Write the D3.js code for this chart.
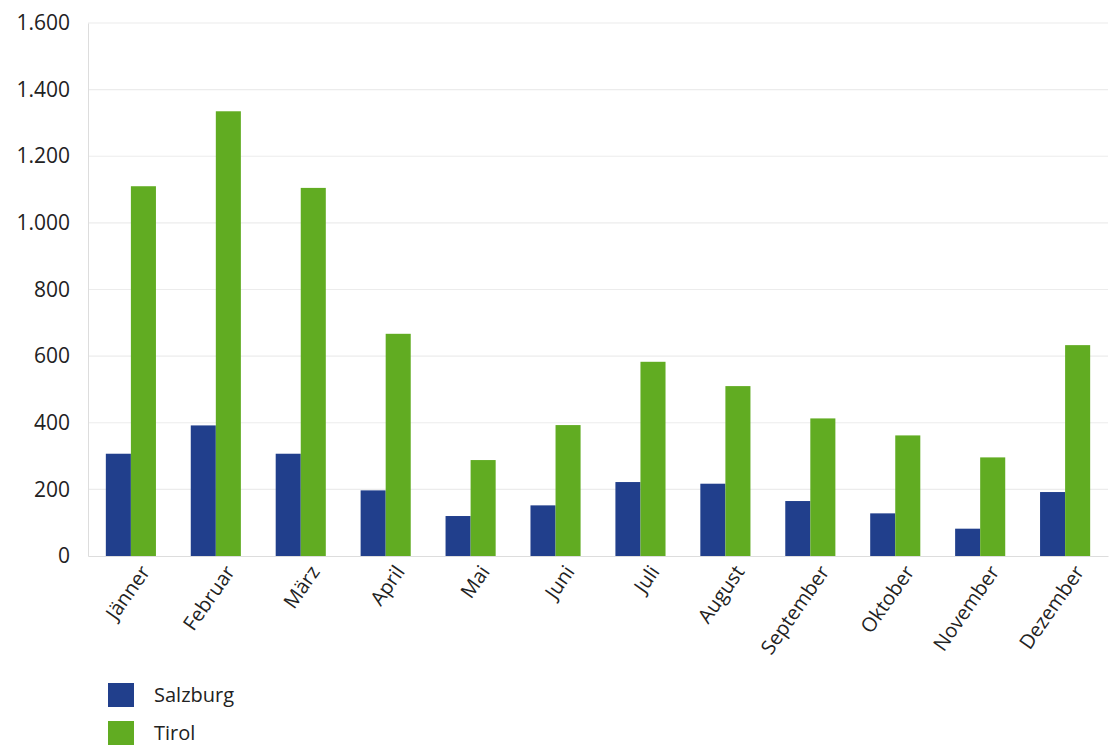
<!DOCTYPE html>
<html><head><meta charset="utf-8">
<script src="https://cdn.jsdelivr.net/npm/d3@7"></script>
<style>body{margin:0;background:#fff}svg{display:block}</style>
</head><body><svg id="c" width="1109" height="745"></svg>
<script>
const months = ["Jänner","Februar","März","April","Mai","Juni","Juli","August","September","Oktober","November","Dezember"];
const salzburg = [307,392,307,197,120,152,222,217,165,128,82,192];
const tirol = [1110,1335,1105,667,288,393,583,510,413,362,296,633];
const seriesNames = ["Salzburg","Tirol"];
const yTicks = [0,200,400,600,800,1000,1200,1400,1600];
const colors = ["#213f8c","#61ac22"];

const svg = d3.select("#c");
const mLeft = 88, mRight = 1108, mTop = 23, mBottom = 556;
const fmt = v => d3.format(",")(v).replace(/,/g,".");
const x = d3.scaleBand().domain(months).range([mLeft, mRight]).paddingInner(0.41).paddingOuter(0.21);
const xs = d3.scaleBand().domain(seriesNames).range([0, x.bandwidth()]);
const y = d3.scaleLinear().domain([0,1600]).range([mBottom, mTop]);

// gridlines
svg.append("g").selectAll("line").data(yTicks.filter(d=>d>0)).join("line")
  .attr("x1", mLeft).attr("x2", mRight)
  .attr("y1", d=>y(d)).attr("y2", d=>y(d))
  .attr("stroke", "#ececec").attr("stroke-width", 1.2);

// y axis
const ya = d3.axisLeft(y).tickValues(yTicks).tickFormat(fmt).tickSize(0).tickPadding(18);
const yg = svg.append("g").attr("transform", `translate(${mLeft},0)`).call(ya);
yg.select(".domain").attr("stroke", "#dddddd");
yg.selectAll("text").attr("font-family","Open Sans, sans-serif").attr("font-size", 21).attr("fill","#222");

// bars
const data = months.map((m,i)=>({m, vals:[salzburg[i], tirol[i]]}));
const grp = svg.append("g").selectAll("g").data(data).join("g")
  .attr("transform", d=>`translate(${x(d.m)},0)`);
grp.selectAll("rect").data(d=>d.vals.map((v,j)=>({k:seriesNames[j], v, j}))).join("rect")
  .attr("x", d=>xs(d.k)).attr("width", xs.bandwidth())
  .attr("y", d=>y(d.v)).attr("height", d=>y(0)-y(d.v))
  .attr("fill", d=>colors[d.j]);

// x axis
const xa = d3.axisBottom(x).tickSize(0).tickPadding(10);
const xg = svg.append("g").attr("transform", `translate(0,${mBottom})`).call(xa);
xg.select(".domain").attr("stroke", "#dddddd");
xg.selectAll("text").attr("font-family","Open Sans, sans-serif").attr("font-size", 20).attr("fill","#222")
  .attr("text-anchor","end").attr("dy","0.35em")
  .attr("transform","translate(6,6) rotate(-55)");

// legend
const lg = svg.append("g").attr("transform","translate(108,683)");
seriesNames.forEach((s,i)=>{
  const g = lg.append("g").attr("transform",`translate(0,${i*38})`);
  g.append("rect").attr("width",26).attr("height",24).attr("fill",colors[i]);
  g.append("text").attr("x",46).attr("y",19).text(s)
   .attr("font-family","Open Sans, sans-serif").attr("font-size",20).attr("fill","#222");
});
</script></body></html>
